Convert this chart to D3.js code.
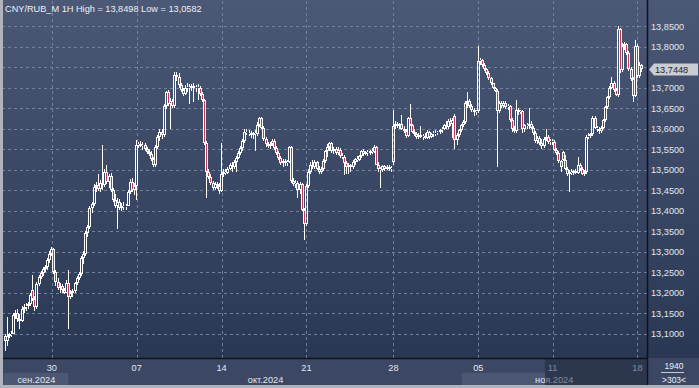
<!DOCTYPE html>
<html lang="ru">
<head>
<meta charset="UTF-8">
<title>CNY/RUB_M 1H</title>
<script src="https://d3js.org/d3.v7.min.js"></script>
<style>
  body { margin: 0; background: #3a4660; }
  svg { display: block; font-family: "Liberation Sans", Arial, sans-serif; }
  .grid line { stroke: #72809c; stroke-dasharray: 3,3; shape-rendering: crispEdges; }
  .grid path { display: none; }
  .grid text { fill: #e2e6ee; font-size: 9.2px; }
</style>
</head>
<body>
<svg id="chart"></svg>
<script>
// candles: [open, high, low, close], one per hour
const barsSep25 = [
  [13.095,13.100,13.0582,13.082],[13.082,13.140,13.070,13.095],[13.095,13.102,13.088,13.098],[13.098,13.106,13.092,13.100],
  [13.100,13.150,13.098,13.145],[13.145,13.158,13.135,13.150],[13.150,13.160,13.128,13.135],[13.135,13.148,13.112,13.130],
  [13.130,13.168,13.128,13.160],[13.160,13.172,13.150,13.165],[13.165,13.175,13.155,13.168],[13.168,13.178,13.160,13.172],
  [13.172,13.200,13.168,13.195],[13.205,13.243,13.180,13.185],[13.185,13.192,13.155,13.165],[13.165,13.225,13.160,13.220],
  [13.220,13.242,13.215,13.238],[13.238,13.252,13.232,13.248],[13.248,13.262,13.240,13.258],[13.258,13.268,13.250,13.262],
  [13.262,13.285,13.255,13.280],[13.280,13.300,13.272,13.295]
];
const barsSep30 = [
  [13.295,13.312,13.290,13.305],[13.305,13.308,13.245,13.250],[13.250,13.255,13.215,13.225],[13.225,13.235,13.205,13.210],
  [13.210,13.222,13.198,13.215],[13.215,13.220,13.200,13.205],[13.205,13.212,13.196,13.200],[13.200,13.230,13.198,13.222],
  [13.222,13.255,13.110,13.190],[13.190,13.205,13.185,13.200],[13.200,13.208,13.190,13.204],[13.204,13.225,13.200,13.222],
  [13.222,13.240,13.218,13.235],[13.235,13.250,13.230,13.245],[13.245,13.290,13.240,13.285],[13.285,13.300,13.270,13.295],
  [13.295,13.350,13.290,13.345],[13.345,13.365,13.335,13.360],[13.360,13.412,13.355,13.405],[13.405,13.420,13.395,13.415],
  [13.415,13.465,13.410,13.458],[13.458,13.470,13.445,13.462],[13.462,13.490,13.448,13.452],[13.452,13.475,13.445,13.468],
  [13.468,13.560,13.450,13.462],[13.462,13.500,13.458,13.495],[13.495,13.512,13.465,13.470],[13.470,13.490,13.455,13.485],
  [13.485,13.492,13.445,13.450],[13.450,13.455,13.420,13.425],[13.425,13.440,13.405,13.412],[13.412,13.430,13.355,13.420],
  [13.420,13.428,13.400,13.405],[13.405,13.418,13.398,13.412],[13.412,13.420,13.402,13.408],[13.408,13.416,13.400,13.412],
  [13.412,13.450,13.410,13.445],[13.445,13.478,13.440,13.470],[13.470,13.480,13.445,13.450],[13.450,13.468,13.438,13.460]
];
const barsOct07 = [
  [13.460,13.572,13.425,13.560],[13.560,13.568,13.552,13.562],[13.562,13.570,13.555,13.558],[13.558,13.566,13.548,13.560],
  [13.560,13.565,13.545,13.550],[13.550,13.556,13.538,13.542],[13.542,13.550,13.532,13.538],[13.538,13.545,13.520,13.525],
  [13.525,13.530,13.505,13.510],[13.510,13.560,13.505,13.555],[13.555,13.585,13.550,13.580],[13.580,13.600,13.570,13.592],
  [13.592,13.600,13.575,13.585],[13.585,13.660,13.580,13.655],[13.655,13.692,13.648,13.688],[13.688,13.695,13.655,13.660],
  [13.660,13.675,13.600,13.668],[13.668,13.672,13.650,13.655],[13.655,13.738,13.650,13.730],[13.730,13.738,13.715,13.725],
  [13.725,13.735,13.700,13.705],[13.705,13.712,13.690,13.695],[13.695,13.700,13.680,13.685],[13.685,13.705,13.682,13.700],
  [13.700,13.710,13.690,13.702],[13.702,13.708,13.660,13.698],[13.698,13.708,13.692,13.704],[13.704,13.710,13.665,13.700],
  [13.700,13.706,13.690,13.702],[13.702,13.708,13.670,13.700],[13.700,13.704,13.680,13.685],[13.685,13.690,13.665,13.670],
  [13.670,13.672,13.560,13.565],[13.565,13.570,13.430,13.495],[13.495,13.500,13.478,13.482],[13.482,13.488,13.462,13.468],
  [13.468,13.472,13.450,13.456],[13.456,13.470,13.450,13.465],[13.465,13.470,13.452,13.460],[13.460,13.466,13.440,13.448]
];
const barsOct14 = [
  [13.448,13.565,13.445,13.488],[13.488,13.500,13.482,13.494],[13.494,13.500,13.486,13.492],[13.492,13.506,13.488,13.502],
  [13.502,13.515,13.498,13.510],[13.510,13.518,13.495,13.506],[13.506,13.522,13.500,13.518],[13.518,13.532,13.495,13.528],
  [13.528,13.545,13.525,13.540],[13.540,13.558,13.535,13.552],[13.552,13.575,13.545,13.570],[13.570,13.598,13.565,13.592],
  [13.592,13.600,13.585,13.590],[13.590,13.596,13.582,13.588],[13.588,13.594,13.578,13.585],[13.585,13.592,13.575,13.588],
  [13.588,13.596,13.545,13.586],[13.586,13.615,13.582,13.608],[13.608,13.628,13.604,13.625],[13.625,13.628,13.600,13.602],
  [13.602,13.606,13.570,13.575],[13.575,13.580,13.555,13.562],[13.562,13.568,13.552,13.558],[13.558,13.566,13.550,13.562],
  [13.562,13.575,13.558,13.570],[13.570,13.574,13.548,13.552],[13.552,13.558,13.535,13.540],[13.540,13.545,13.522,13.528],
  [13.528,13.534,13.510,13.515],[13.515,13.525,13.505,13.520],[13.520,13.526,13.508,13.515],[13.515,13.522,13.508,13.518],
  [13.518,13.558,13.515,13.555],[13.555,13.558,13.468,13.472],[13.472,13.480,13.460,13.465],[13.465,13.475,13.455,13.468],
  [13.468,13.472,13.430,13.450],[13.450,13.470,13.440,13.465],[13.465,13.468,13.398,13.402],[13.402,13.405,13.328,13.368]
];
const barsOct21 = [
  [13.368,13.465,13.362,13.460],[13.460,13.500,13.455,13.495],[13.495,13.518,13.490,13.512],[13.512,13.522,13.500,13.505],
  [13.505,13.522,13.500,13.518],[13.518,13.520,13.498,13.502],[13.502,13.508,13.490,13.495],[13.495,13.505,13.488,13.500],
  [13.500,13.525,13.496,13.520],[13.520,13.548,13.515,13.545],[13.545,13.562,13.530,13.555],[13.555,13.568,13.545,13.565],
  [13.565,13.568,13.540,13.545],[13.545,13.555,13.538,13.550],[13.550,13.556,13.535,13.540],[13.540,13.555,13.535,13.548],
  [13.548,13.552,13.528,13.532],[13.532,13.540,13.525,13.530],[13.530,13.535,13.486,13.515],[13.515,13.520,13.488,13.505],
  [13.505,13.515,13.490,13.510],[13.510,13.514,13.495,13.505],[13.505,13.522,13.500,13.518],[13.518,13.528,13.512,13.525],
  [13.525,13.532,13.518,13.522],[13.522,13.535,13.520,13.532],[13.532,13.548,13.528,13.545],[13.545,13.550,13.532,13.538],
  [13.538,13.546,13.535,13.542],[13.542,13.548,13.532,13.540],[13.540,13.548,13.535,13.545],[13.545,13.552,13.538,13.542],
  [13.542,13.560,13.540,13.555],[13.555,13.558,13.510,13.512],[13.512,13.518,13.495,13.500],[13.500,13.506,13.456,13.498],
  [13.498,13.512,13.494,13.508],[13.508,13.512,13.496,13.502],[13.502,13.510,13.498,13.506],[13.506,13.512,13.496,13.500],
  [13.500,13.508,13.494,13.504]
];
const barsOct28 = [
  [13.518,13.645,13.512,13.605],[13.605,13.618,13.600,13.612],[13.612,13.616,13.602,13.606],[13.606,13.614,13.600,13.610],
  [13.610,13.632,13.596,13.600],[13.600,13.606,13.590,13.595],[13.595,13.600,13.578,13.582],[13.582,13.628,13.580,13.625],
  [13.625,13.660,13.605,13.608],[13.608,13.612,13.588,13.592],[13.592,13.598,13.582,13.586],[13.586,13.592,13.574,13.580],
  [13.580,13.588,13.575,13.584],[13.584,13.605,13.576,13.580],[13.580,13.586,13.572,13.582],[13.582,13.590,13.575,13.578],
  [13.578,13.596,13.575,13.592],[13.592,13.595,13.575,13.580],[13.580,13.590,13.576,13.586],[13.586,13.594,13.580,13.590],
  [13.590,13.596,13.582,13.588],[13.588,13.595,13.584,13.592],[13.592,13.600,13.586,13.596],[13.596,13.604,13.588,13.600],
  [13.600,13.612,13.596,13.608],[13.608,13.618,13.600,13.604],[13.604,13.622,13.600,13.618],[13.618,13.626,13.606,13.610],
  [13.610,13.625,13.578,13.620],[13.630,13.635,13.550,13.572],[13.572,13.590,13.560,13.585],[13.585,13.600,13.580,13.596],
  [13.596,13.612,13.592,13.608],[13.608,13.620,13.604,13.616],[13.616,13.668,13.612,13.662],[13.662,13.690,13.650,13.668],
  [13.668,13.672,13.650,13.655],[13.655,13.660,13.640,13.645],[13.645,13.650,13.630,13.640],[13.640,13.646,13.632,13.642]
];
const barsNov05 = [
  [13.642,13.800,13.638,13.765],[13.765,13.772,13.755,13.768],[13.768,13.770,13.750,13.756],[13.756,13.760,13.740,13.745],
  [13.745,13.748,13.730,13.735],[13.735,13.740,13.718,13.722],[13.722,13.726,13.705,13.710],[13.710,13.712,13.696,13.700],
  [13.700,13.702,13.688,13.692],[13.692,13.696,13.505,13.642],[13.642,13.668,13.638,13.662],[13.662,13.668,13.650,13.656],
  [13.656,13.666,13.650,13.662],[13.662,13.666,13.648,13.652],[13.652,13.660,13.645,13.655],[13.655,13.658,13.615,13.620],
  [13.620,13.625,13.592,13.598],[13.598,13.605,13.588,13.595],[13.595,13.670,13.590,13.645],[13.645,13.650,13.632,13.640],
  [13.640,13.646,13.635,13.642],[13.642,13.645,13.590,13.598],[13.598,13.612,13.592,13.608],[13.608,13.614,13.600,13.605],
  [13.605,13.650,13.600,13.612],[13.612,13.618,13.598,13.602],[13.602,13.606,13.585,13.590],[13.590,13.594,13.565,13.570],
  [13.570,13.582,13.562,13.578],[13.578,13.582,13.560,13.565],[13.565,13.574,13.550,13.558],[13.558,13.580,13.552,13.575],
  [13.575,13.600,13.570,13.580],[13.580,13.585,13.562,13.568],[13.568,13.574,13.560,13.570]
];
const barsNov11 = [
  [13.570,13.575,13.560,13.568],[13.568,13.572,13.545,13.548],[13.548,13.552,13.535,13.540],[13.540,13.544,13.515,13.520],
  [13.520,13.524,13.495,13.505],[13.542,13.546,13.520,13.524],[13.524,13.536,13.498,13.502],[13.502,13.506,13.485,13.490],
  [13.490,13.498,13.445,13.494],[13.494,13.500,13.486,13.492],[13.492,13.498,13.486,13.496],[13.496,13.500,13.488,13.492],
  [13.492,13.530,13.490,13.512],[13.512,13.516,13.496,13.500],[13.500,13.505,13.486,13.490],[13.490,13.498,13.484,13.494],
  [13.494,13.585,13.490,13.580],[13.580,13.588,13.574,13.582],[13.582,13.590,13.576,13.586],[13.586,13.630,13.582,13.625],
  [13.625,13.630,13.598,13.602],[13.602,13.606,13.592,13.598],[13.598,13.603,13.586,13.594],[13.594,13.606,13.590,13.602],
  [13.602,13.624,13.598,13.620],[13.620,13.655,13.616,13.652],[13.652,13.680,13.648,13.676],[13.676,13.704,13.672,13.700],
  [13.700,13.725,13.696,13.712],[13.712,13.716,13.690,13.694],[13.694,13.698,13.680,13.682],[13.682,13.8498,13.678,13.842],
  [13.842,13.846,13.735,13.742],[13.742,13.808,13.738,13.800],[13.800,13.810,13.792,13.805],[13.805,13.808,13.780,13.785],
  [13.785,13.790,13.740,13.745],[13.745,13.750,13.715,13.720],[13.720,13.725,13.664,13.680],[13.680,13.815,13.676,13.800],
  [13.800,13.805,13.722,13.728],[13.728,13.762,13.724,13.755],[13.755,13.758,13.738,13.7448]
];

const priceTicks = [13.10, 13.15, 13.20, 13.25, 13.30, 13.35, 13.40, 13.45, 13.50, 13.55, 13.60, 13.65, 13.70, 13.75, 13.80, 13.85];
const dateTickBars = [22, 62, 102, 142, 183, 223, 258, 298];
const dateLabels = ["30", "07", "14", "21", "28", "05", "11", "18"];
const monthLabels = ["сен.2024", "окт.2024", "ноя.2024"];
const monthBars = [15, 123, 259];
const titleText = "CNY/RUB_M 1H High = 13,8498 Low = 13,0582";
const lastPrice = 13.7448;
const barCount = "1940";
const visibleCount = ">303<";

const bars = [].concat(barsSep25, barsSep30, barsOct07, barsOct14, barsOct21, barsOct28, barsNov05, barsNov11);

const W = 699, H = 388;
const plotL = 3, plotR = 647, plotB = 358;

const svg = d3.select("#chart").attr("width", W).attr("height", H);

const defs = svg.append("defs");
const grad = defs.append("linearGradient").attr("id", "bg").attr("x1", 0).attr("y1", 0).attr("x2", 0).attr("y2", 1);
grad.append("stop").attr("offset", "0%").attr("stop-color", "#4b5876");
grad.append("stop").attr("offset", "100%").attr("stop-color", "#283550");

svg.append("rect").attr("width", W).attr("height", H).attr("fill", "url(#bg)");
// bottom date strip
svg.append("rect").attr("x", plotL).attr("y", plotB).attr("width", W - plotL).attr("height", H - plotB).attr("fill", "#3c4863");

const x = d3.scaleLinear().domain([-0.5, 302.5]).range([plotL + 0.5, plotR - 0.5]);
const y = d3.scaleLinear().domain([13.10, 13.85]).range([333.5, 26]);

const fmt = d3.formatLocale({decimal: ",", thousands: " ", grouping: [3], currency: ["", ""]}).format(".4f");

// horizontal grid + right price labels
const yAxis = svg.append("g").attr("class", "grid")
    .attr("transform", "translate(" + plotR + ",0)")
    .call(d3.axisRight(y).tickValues(priceTicks).tickSize(-(plotR - plotL)).tickPadding(4).tickFormat(fmt));
yAxis.selectAll("text").attr("dy", "0.36em");
// the label under the last-price marker is hidden, as in the terminal
yAxis.selectAll(".tick").filter(d => Math.abs(y(d) - y(lastPrice)) < 11).select("text").remove();

// vertical grid + date labels
const xAxis = svg.append("g").attr("class", "grid")
    .attr("transform", "translate(0," + plotB + ")")
    .call(d3.axisBottom(x).tickValues(dateTickBars).tickSize(-plotB).tickPadding(6)
        .tickFormat((d, i) => dateLabels[i]));
xAxis.selectAll(".tick line").attr("transform", "translate(0.5,0)");

// month boxes
svg.append("rect").attr("x", x(-0.5)).attr("y", 373).attr("width", x(30) - x(-0.5)).attr("height", 12).attr("fill", "#4c5873");
svg.append("rect").attr("x", x(215.5)).attr("y", 373).attr("width", x(254.7) - x(215.5)).attr("height", 12).attr("fill", "#4c5873");
svg.selectAll(".month").data(monthLabels).enter().append("text")
    .attr("class", "month")
    .attr("x", (d, i) => x(monthBars[i]))
    .attr("y", 382.5)
    .attr("text-anchor", "middle")
    .attr("font-size", "9.2px")
    .attr("fill", "#e2e6ee")
    .text(d => d);
// dim overlay at the right of the time strip
svg.append("rect").attr("x", x(254.7)).attr("y", plotB + 1).attr("width", plotR - x(254.7)).attr("height", 27)
    .attr("fill", "#1c2539").attr("opacity", 0.5);

// candles
const cg = svg.append("g").attr("shape-rendering", "crispEdges");
bars.forEach((b, i) => {
    const [o, h, l, c] = b;
    const cx = Math.round(x(i));
    const top = Math.round(y(Math.max(o, c)));
    const bot = Math.max(top + 1, Math.round(y(Math.min(o, c))));
    const yh = Math.round(y(h)), yl = Math.round(y(l));
    if (yh < top) cg.append("rect").attr("x", cx).attr("y", yh).attr("width", 1).attr("height", top - yh).attr("fill", "#fff");
    if (yl > bot) cg.append("rect").attr("x", cx).attr("y", bot).attr("width", 1).attr("height", yl - bot).attr("fill", "#fff");
    cg.append("rect").attr("x", cx - 0.5).attr("y", top + 0.5).attr("width", 2).attr("height", Math.max(0, bot - top - 1))
        .attr("fill", c < o ? "#c23a52" : "none")
        .attr("stroke", "#fff").attr("stroke-width", 1);
});

// separators
svg.append("line").attr("x1", plotR + 0.5).attr("x2", plotR + 0.5).attr("y1", 0).attr("y2", H).attr("stroke", "#0e131d").attr("stroke-width", 1.5);
svg.append("line").attr("x1", plotL).attr("x2", plotR).attr("y1", plotB + 0.5).attr("y2", plotB + 0.5).attr("stroke", "#0e131d").attr("stroke-width", 1.5);

// last price marker
const ly = Math.round(y(lastPrice)) + 0.5;
svg.append("path")
    .attr("d", "M" + (plotR + 2) + "," + ly + " L" + (plotR + 7) + "," + (ly - 6) + " L" + (W - 1) + "," + (ly - 6) +
        " L" + (W - 1) + "," + (ly + 6) + " L" + (plotR + 7) + "," + (ly + 6) + " Z")
    .attr("fill", "#c9ccd3");
svg.append("text").attr("x", plotR + 8).attr("y", ly + 3.3).attr("font-size", "9.2px").attr("fill", "#1b1f28").text(fmt(lastPrice));

// title
svg.append("text").attr("x", 5).attr("y", 12.3).attr("font-size", "9.2px").attr("fill", "#eef0f4").text(titleText);

// corner counters
const cxr = (plotR + W) / 2 + 1;
svg.append("text").attr("x", cxr).attr("y", 368.5).attr("text-anchor", "middle").attr("font-size", "8.5px").attr("fill", "#eef0f4").text(barCount);
svg.append("line").attr("x1", 661).attr("x2", 684).attr("y1", 372.5).attr("y2", 372.5).attr("stroke", "#c8ccd4");
svg.append("text").attr("x", cxr).attr("y", 382.5).attr("text-anchor", "middle").attr("font-size", "8.5px").attr("fill", "#eef0f4").text(visibleCount);

// outer frame
svg.append("rect").attr("x", 0).attr("y", 0).attr("width", 3).attr("height", H).attr("fill", "#aeb3bc");
svg.append("rect").attr("x", 0).attr("y", H - 3).attr("width", W).attr("height", 3).attr("fill", "#aeb3bc");
</script>
</body>
</html>
